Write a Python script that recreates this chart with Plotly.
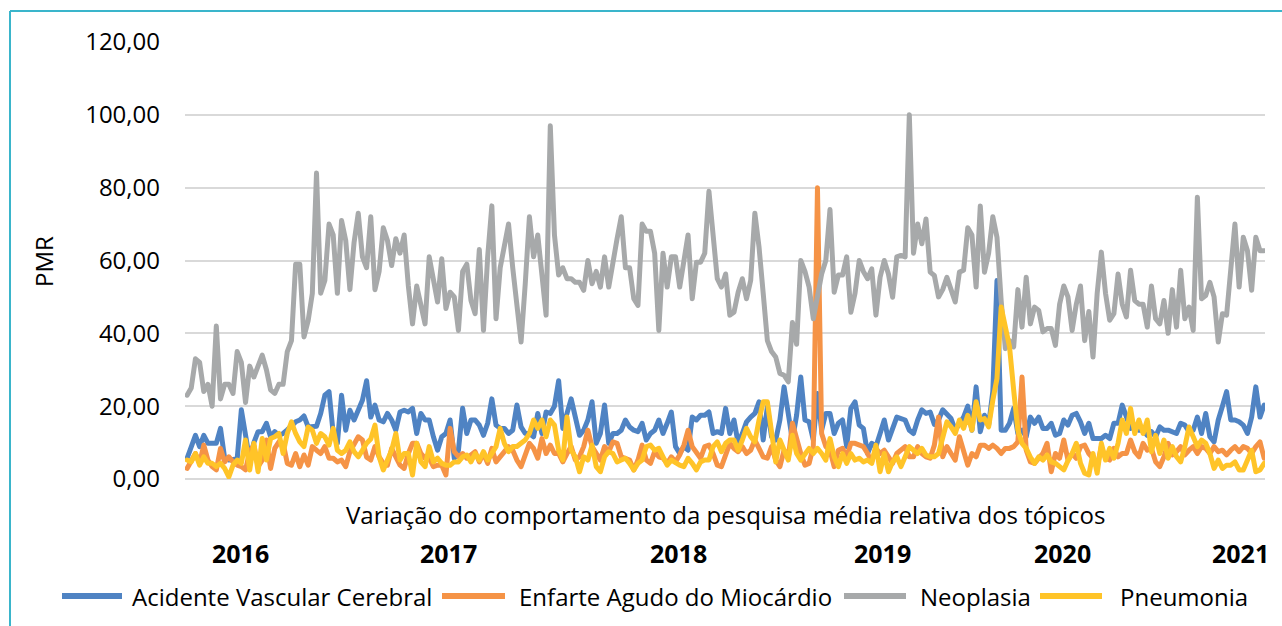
import plotly.graph_objects as go

# ---------------- data (weekly relative search) ----------------
avc = [5.7, 8.9, 12, 8.9, 12, 9.8, 9.8, 9.8, 13.9, 5.7, 5.2, 5.2, 5.5, 19, 11.6, 5.2, 10, 13, 13, 15.3,
       11.6, 13, 12, 12.5, 13.5, 14.8, 15.7, 16.2, 17.3, 14.3, 14.5, 14.5, 18, 23, 24, 12.5, 9.8, 23, 13.4, 18.9,
       16.2, 18.9, 21.6, 27, 17, 20.3, 16.2, 15.7, 18, 16.2, 13.4, 18.4, 18.9, 18.4, 19.4, 12.5, 18, 16.2, 16.2, 11.6,
       7.9, 11.6, 12.5, 16.2, 5.7, 7.9, 19.4, 12.5, 16.2, 16.2, 14.8, 12, 15.3, 22, 14.8, 13.9, 13.9, 12.5, 13.4, 20.3,
       14.3, 12.5, 12.5, 11.6, 18, 12.5, 18.4, 18, 20, 27, 13.9, 18, 22, 17, 12, 13.4, 16.2, 21.2, 9.8, 12.5,
       20.3, 9.8, 12.5, 12.5, 13.4, 16.2, 14.3, 13.4, 13, 15.3, 10.7, 12.5, 13.4, 16.2, 12.5, 15.3, 18.4, 8.9, 7, 8.9,
       7.9, 17, 16.2, 17.5, 17.5, 18.4, 12.5, 13, 12.5, 19.4, 12.5, 16.2, 9.8, 12.5, 15.7, 17, 18, 21.2, 10.7, 19.8,
       11.6, 10.7, 16.2, 25.3, 17, 10.7, 17.5, 28, 16.2, 15.7, 10.7, 23.5, 13.4, 18, 18, 12.5, 15.3, 16.2, 8.9, 19.4,
       21.2, 14.8, 13.9, 7, 9.8, 8.9, 12.5, 16.2, 10.7, 13.9, 17, 16.6, 16.2, 13.4, 12.5, 16.2, 19, 18, 18.4, 15,
       16.2, 19, 18, 16.6, 13.4, 15.3, 17, 20, 13.4, 25.3, 13, 17.5, 14.8, 24, 54.5, 13.4, 13.4, 15.3, 19.4, 12.5,
       13.4, 11.6, 17, 15.3, 17, 13.9, 13.9, 15.3, 12, 12.5, 16.2, 14.8, 17.5, 18, 15.7, 12.5, 15.3, 11.1, 11.1, 11.1,
       12, 11.1, 15.3, 15.3, 20.3, 17, 13.9, 14.3, 13.4, 13.4, 12, 13, 11.6, 14.3, 13.4, 13.4, 13, 12.5, 15.3, 14.8,
       13, 13.4, 17, 12.5, 18, 11.6, 10.2, 16.2, 20, 24, 16.2, 16.2, 15.7, 14.8, 12.5, 17, 25.3, 17, 20.3]

enfarte = [2.9, 4.7, 7, 4.3, 9.3, 5.2, 3.4, 2.5, 8.4, 4.7, 6.1, 4.7, 3.8, 3.4, 2.5, 7.5, 9.3, 3.4, 5.2, 10.7,
           2.9, 8.4, 10.2, 9.8, 4.3, 3.8, 7, 3.4, 6.6, 3.8, 8.9, 7.9, 7, 8.9, 5.7, 5.7, 4.7, 5.2, 3.4, 7.5,
           9.3, 11.6, 10.7, 6, 5.2, 8.9, 6.1, 4.3, 3.8, 8.4, 6.1, 3.8, 2.9, 7, 9.8, 9.8, 7, 5.7, 5.7, 3.4,
           3.8, 3.8, 1.1, 13.9, 7.5, 6.1, 7, 5.7, 6.6, 7.5, 4.7, 7, 4.3, 8.4, 4.7, 6.1, 7, 8.9, 7.9, 5.2,
           3.4, 7, 9.8, 8.4, 5.7, 11.1, 7, 9.3, 7, 7, 4.7, 7, 8.9, 5.2, 6.1, 8.9, 13.4, 8.9, 7, 5.2,
           8.9, 7.5, 10.2, 9.8, 6.1, 5.7, 5.2, 2.5, 5.2, 9.3, 5.2, 4.3, 7.5, 6.1, 5.7, 4.3, 6.1, 4.7, 6.6, 9.3,
           13.4, 8.9, 7, 5.7, 8.9, 9.3, 7, 3.8, 3.4, 7, 9.8, 8.4, 7.5, 8.9, 7, 7.9, 10.7, 8.4, 6.1, 5.7,
           8.9, 5.2, 3.4, 7.9, 5.7, 15.3, 10.7, 7, 3.8, 4.3, 8.9, 80, 12.5, 8.9, 7.9, 3.4, 7.9, 8.4, 6.1, 9.8,
           9.8, 9.3, 8.9, 7, 4.7, 8.4, 7, 7.9, 6.1, 4.3, 7, 7.9, 8.9, 6.1, 6.1, 8.9, 7, 6.1, 5.7, 9.3,
           17, 6.1, 8.9, 7, 5.2, 11.6, 7.9, 3.8, 7, 6.1, 9.3, 9.3, 8.4, 9.3, 8.4, 7, 8.4, 8.4, 8.9, 10.2,
           28, 7.9, 4.7, 4.3, 5.7, 7, 9.8, 2, 7, 5.7, 10.7, 5.2, 7, 5.7, 8.9, 9.3, 7, 5.7, 3.4, 8.9,
           5.7, 5.2, 8.4, 6.1, 7, 7, 10.7, 7.5, 6.1, 9.8, 7.9, 8.4, 4.7, 3.4, 6.1, 9.8, 6.6, 7.5, 8.9, 6.6,
           7.9, 8.9, 7, 8.9, 8.4, 7, 8.9, 7.5, 7.9, 6.6, 7.9, 8.9, 7.5, 8.9, 8.4, 7, 8.9, 10.2, 5.7]

neoplasia = [23, 25, 33, 32, 24, 26, 20, 42, 22, 26, 26, 23.5, 35, 32, 21, 31, 28, 31, 34, 30,
             24.5, 23.5, 26, 26, 35, 38, 59, 59, 39, 43.5, 51, 84, 51, 54.5, 70, 67, 51, 71, 65.5, 52,
             65, 73, 61, 58, 72, 52, 57, 69, 65.5, 58.6, 66, 62, 67, 53, 42.6, 53, 48, 42.6, 61, 54.5,
             48.6, 60.5, 46.8, 51.3, 50, 40.8, 57, 59, 49, 45.4, 63, 40.8, 61, 75, 44, 58, 64.6, 70, 58, 47,
             37.6, 53.6, 72, 61, 67, 56, 45, 97, 67, 56, 58, 55, 55, 54, 54, 51.8, 60, 53.6, 57, 52.7,
             61, 52.7, 60, 66, 72, 58, 58, 49.5, 47.7, 70, 68, 68, 62, 40.8, 62, 52.7, 61, 61, 52.7, 61,
             67, 49.5, 59.5, 59.5, 62, 79, 67, 55, 52.7, 56.3, 45, 45.8, 51.3, 55, 49.5, 54.5, 73, 63.7, 51, 38,
             35, 33.5, 29, 28.5, 26.7, 43, 37, 60, 57, 52.7, 44, 51, 56.3, 60, 74, 51.3, 56, 56, 61, 45.8,
             51, 60, 57, 55, 57.7, 45, 55.4, 60, 56.3, 49.9, 61, 61.4, 61, 100, 62, 70, 64.6, 71.4, 56.8, 55.9,
             50, 52, 55.4, 52, 48.6, 56.8, 57.3, 69, 67, 52.7, 75, 56.8, 62, 72, 66.4, 49, 35.8, 38, 36.3, 52,
             41.7, 55.4, 42.6, 47.2, 46.3, 40.4, 41.3, 41.3, 36.7, 48, 53, 50, 40.8, 48, 53, 38, 46, 33.5, 51, 62.3,
             51, 43.6, 45.4, 56.3, 48, 44.5, 57.3, 49, 48, 48, 41.7, 53, 44, 42.6, 49, 40, 52, 41.7, 57.3, 44,
             47.2, 40.8, 77.4, 49.5, 50.4, 54, 50, 37.6, 45.4, 45, 56.3, 70, 52.7, 66.4, 62.7, 51.8, 66.4, 62.7, 62.7]

pneumonia = [5.2, 4.7, 7, 3.8, 6.1, 4.3, 4.3, 3.4, 4.3, 2.9, 0.6, 3.8, 5.2, 4.3, 10.7, 2.5, 9.8, 2, 11.1, 5.2,
             11.1, 11.6, 12.5, 7, 12.5, 15.7, 12.5, 10.2, 8.9, 14.3, 13.4, 9.8, 12.5, 11.6, 9.3, 13.9, 7.9, 7, 7.9, 10.2,
             7.5, 6.1, 7.9, 9.8, 11, 14.8, 6.1, 2.5, 5.2, 7.9, 12.5, 5.2, 7, 7, 1.1, 9.8, 4.7, 3.4, 8.9, 4.7,
             5.7, 4.3, 3.8, 3.8, 4.7, 4.7, 6.1, 6.6, 4.7, 7, 5.2, 7.5, 5.2, 7, 8.9, 13.9, 9.8, 7.5, 8.9, 8.9,
             9.8, 10.7, 12.5, 16.2, 13.9, 16.2, 11.6, 16.2, 14.8, 7.9, 5.2, 17, 7.9, 6.1, 2, 6.1, 5.2, 9.3, 3.4, 2,
             6.1, 7.5, 7, 4.7, 5.2, 5.7, 4.3, 2.5, 4.3, 5.2, 8.9, 9.3, 7.9, 8.4, 6.1, 3.8, 5.2, 4.3, 3.8, 3.4,
             5.7, 4.3, 2.5, 4.7, 5.2, 5.2, 8.9, 10.2, 7.5, 9.8, 10.7, 10.7, 7.9, 10.7, 13.9, 11.6, 10.2, 16.2, 21.2, 21.2,
             12.5, 4.7, 10.7, 7.9, 5.2, 12, 7, 5.2, 7, 8.4, 7, 8.4, 7, 5.2, 11.1, 6.1, 3.4, 7, 4.3, 7,
             5.2, 5.7, 4.7, 5.2, 4.3, 9.3, 2, 7, 2, 4.7, 6.1, 3.4, 6.1, 8.9, 7.9, 7, 8.4, 6.6, 6.1, 6.1,
             7, 11.6, 15.7, 14.3, 12.5, 16.2, 13.9, 17.5, 13.4, 21.2, 16.2, 16.6, 14.3, 21.6, 27.6, 47.2, 41.7, 36.3, 24.4, 13.4,
             9.8, 8.4, 6, 4.3, 6.1, 5.2, 6.6, 4.7, 4.3, 3.4, 2.5, 5, 7, 9.8, 4.3, 1.6, 1.1, 7, 1.6, 9.8,
             5.2, 8.4, 5.7, 9.8, 16.2, 12.5, 19.4, 12.5, 16.2, 12.5, 16.2, 7.5, 12, 7, 10.7, 5.7, 8.9, 6.1, 4.7, 8.9,
             14.3, 11.6, 8.9, 10.7, 9.8, 7, 2.9, 5.2, 2.9, 3.8, 3.8, 4.7, 2.5, 2.5, 5.2, 7.9, 2, 2.5, 4.3]

weeks = list(range(len(neoplasia)))

series_names = ["Acidente Vascular Cerebral", "Enfarte Agudo do Miocárdio", "Neoplasia", "Pneumonia"]
year_labels = ["2016", "2017", "2018", "2019", "2020", "2021"]
y_ticks = [0, 20, 40, 60, 80, 100, 120]
y_tick_labels = ["0,00", "20,00", "40,00", "60,00", "80,00", "100,00", "120,00"]
x_title = "Variação do comportamento da pesquisa média relativa dos tópicos"
y_title = "PMR"

# ---------------- styling / layout ----------------
colors = ["#4F83C3", "#F59346", "#A7A9AA", "#FFC428"]
FONT = "Open Sans"
TXT = "#000000"
W, H = 1282, 626
L, R, T, B = 185, 17, 42, 147
PW, PH = W - L - R, H - T - B
year_px = [240, 448, 678, 882, 1062, 1240]          # label centres (px)
legend_px = [(62, 122, 130), (442, 505, 517), (844, 906, 918), (1040, 1102, 1118)]


def px_x(p):
    return (p - L) / PW


def px_y(p):
    return (H - B - p) / PH


fig = go.Figure()
for name, vals, col in zip(series_names, [avc, enfarte, neoplasia, pneumonia], colors):
    fig.add_trace(go.Scatter(x=weeks, y=vals, mode="lines", name=name,
                             line=dict(color=col, width=5), showlegend=False))

annotations = [
    dict(text=x_title, x=0.5, y=px_y(514), xref="paper", yref="paper", showarrow=False,
         font=dict(family=FONT, size=24, color=TXT), xanchor="center", yanchor="middle"),
    dict(text=y_title, x=px_x(43), y=px_y(262), xref="paper", yref="paper", showarrow=False,
         textangle=-90, font=dict(family=FONT, size=24, color=TXT), xanchor="center", yanchor="middle"),
]
for lab, xp in zip(year_labels, year_px):
    annotations.append(dict(text=lab, x=px_x(xp), y=px_y(553), xref="paper", yref="paper",
                            showarrow=False, font=dict(family=FONT, size=25, color=TXT, weight="bold"),
                            xanchor="center", yanchor="middle"))

shapes = [
    # chart-area frame (left + top edges)
    dict(type="line", xref="paper", yref="paper", x0=px_x(10), x1=px_x(10), y0=px_y(H + 5), y1=px_y(11),
         line=dict(color="#3AB5CB", width=2)),
    dict(type="line", xref="paper", yref="paper", x0=px_x(10), x1=px_x(W + 5), y0=px_y(11), y1=px_y(11),
         line=dict(color="#3AB5CB", width=2)),
]
for (x0, x1, xt), name, col in zip(legend_px, series_names, colors):
    shapes.append(dict(type="line", xref="paper", yref="paper", x0=px_x(x0), x1=px_x(x1),
                       y0=px_y(596), y1=px_y(596), line=dict(color=col, width=6)))
    annotations.append(dict(text=name, x=px_x(xt), y=px_y(596), xref="paper", yref="paper",
                            showarrow=False, font=dict(family=FONT, size=24, color=TXT),
                            xanchor="left", yanchor="middle"))

fig.update_layout(
    width=W, height=H,
    margin=dict(l=L, r=R, t=T, b=B),
    paper_bgcolor="white", plot_bgcolor="white",
    font=dict(family=FONT, size=24, color=TXT),
    showlegend=False,
    annotations=annotations,
    shapes=shapes,
)
fig.update_xaxes(range=[-0.5, len(weeks) - 0.8], showgrid=False, zeroline=False,
                 showticklabels=False, showline=False, ticks="")
fig.update_yaxes(range=[0, 120], tickvals=y_ticks, ticktext=y_tick_labels,
                 showgrid=True, gridcolor="#D9D9D9", gridwidth=2,
                 zeroline=True, zerolinecolor="#D9D9D9", zerolinewidth=2,
                 showline=False, ticks="", ticklabelstandoff=24,
                 tickfont=dict(family=FONT, size=24, color=TXT))

post = ("document.body.style.margin='0';document.body.style.overflow='hidden';"
        "var s=document.createElement('style');"
        "s.innerHTML='.scatterlayer path.js-line{stroke-linejoin:round;stroke-linecap:round;}';"
        "document.head.appendChild(s);")
fig.write_html("out.html", post_script=post, config={"displayModeBar": False})
